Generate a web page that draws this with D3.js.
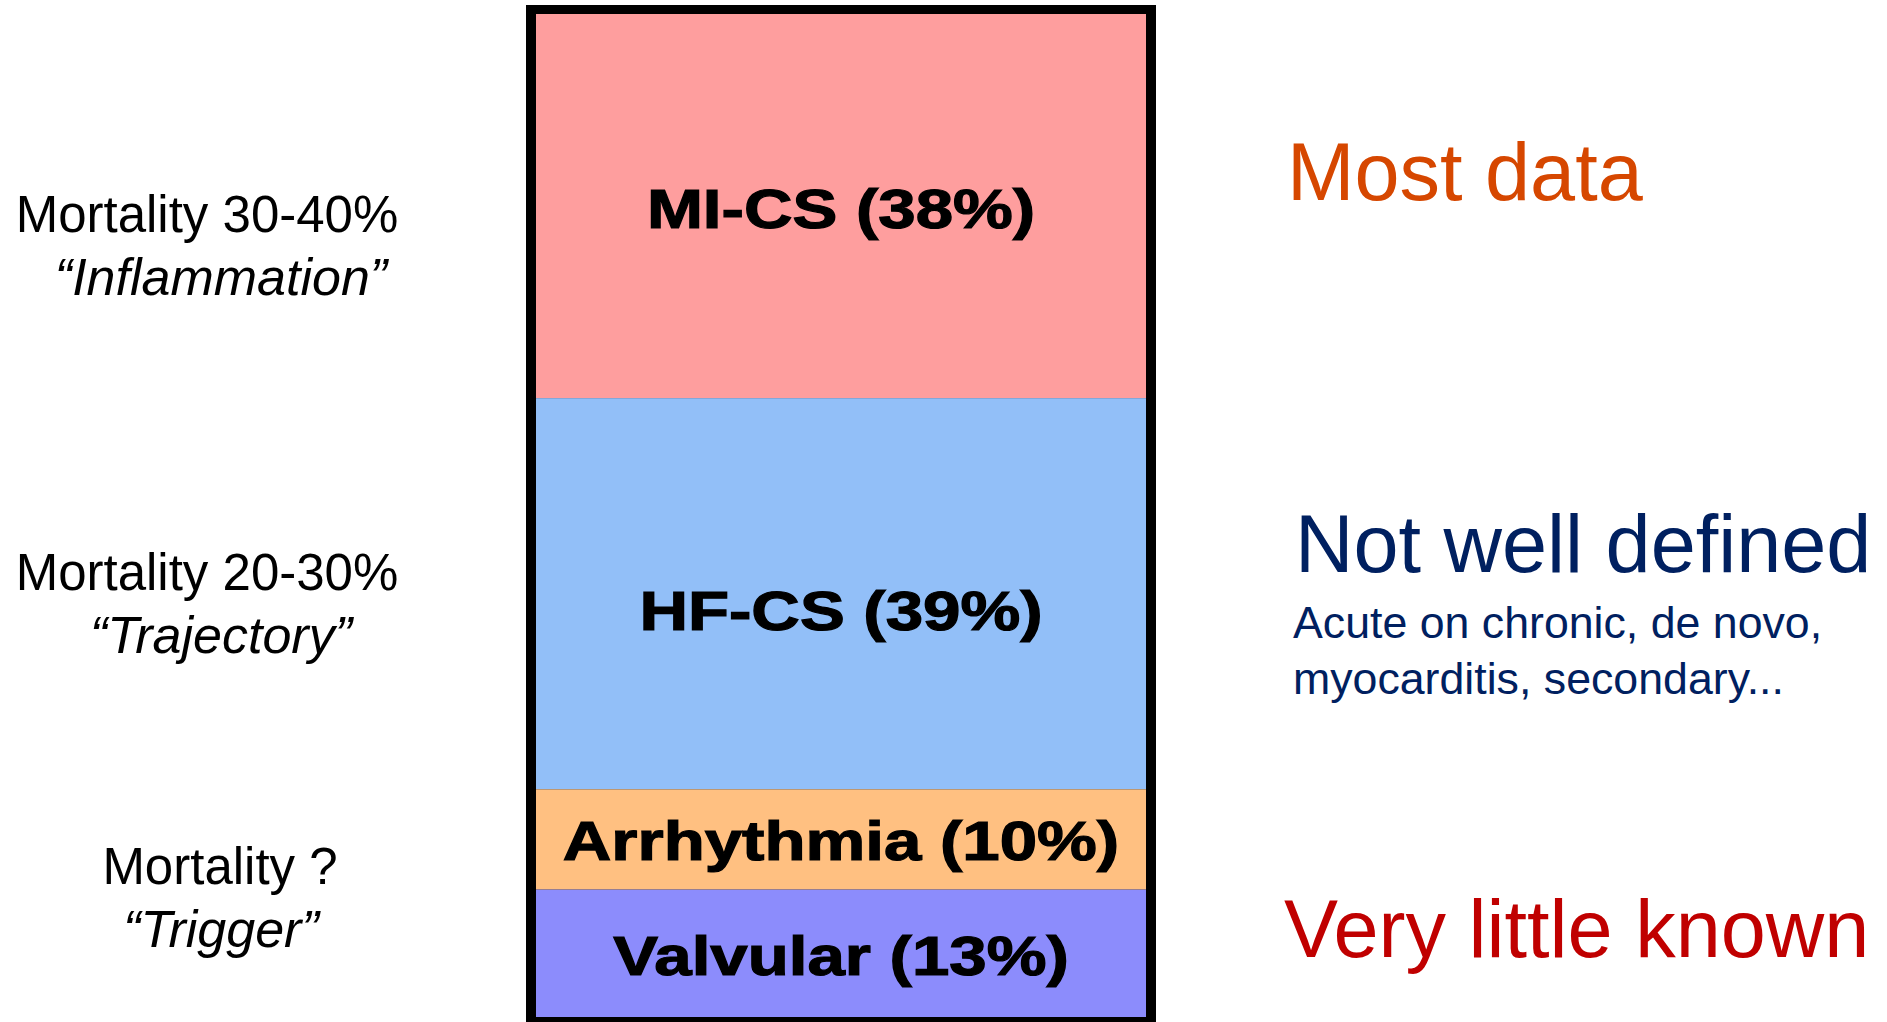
<!DOCTYPE html>
<html>
<head>
<meta charset="utf-8">
<script src="https://cdn.jsdelivr.net/npm/d3@7"></script>
<style>
  html, body { margin: 0; padding: 0; background: #fff; overflow: hidden; }
  svg { display: block; }
</style>
</head>
<body>
<script>
const width = 1887;
const height = 1022;

// cardiogenic shock phenotypes, share of cases
const categories = ["MI-CS", "HF-CS", "Arrhythmia", "Valvular"];
const shares = [38, 39, 10, 13];
const fills = ["#fe9e9e", "#92bff8", "#ffc081", "#8c8cfc"];

// notes on the left
const mortality = ["Mortality 30-40%", "Mortality 20-30%", "Mortality ?"];
const themes = ["\u201CInflammation\u201D", "\u201CTrajectory\u201D", "\u201CTrigger\u201D"];

// notes on the right
const verdicts = ["Most data", "Not well defined", "Very little known"];
const verdictColors = ["#d64700", "#002060", "#c00000"];
const detailLines = ["Acute on chronic, de novo,", "myocarditis, secondary..."];

const svg = d3.select("body").append("svg")
    .attr("width", width)
    .attr("height", height);

const bar = {x0: 536, x1: 1146, y0: 17, y1: 1020};

const y = d3.scaleLinear()
    .domain([0, d3.sum(shares)])
    .range([bar.y0, bar.y1]);

const rows = categories.map((c, i) => ({
    name: c,
    value: shares[i],
    start: d3.sum(shares.slice(0, i)),
    fill: fills[i]
}));

// black frame round the column
svg.append("rect")
    .attr("x", bar.x0 - 10)
    .attr("y", 5)
    .attr("width", bar.x1 - bar.x0 + 20)
    .attr("height", height)
    .style("fill", "#000");

svg.append("g")
    .selectAll("rect")
    .data(rows)
    .enter()
    .append("rect")
    .attr("x", bar.x0)
    .attr("width", bar.x1 - bar.x0)
    .attr("y", (d, i) => i === 0 ? 14 : y(d.start))
    .attr("height", (d, i) => Math.min(y(d.start + d.value), 1017) - (i === 0 ? 14 : y(d.start)))
    .style("fill", d => d.fill);

const cx = (bar.x0 + bar.x1) / 2;
// the HF label sits a little below the middle of its block
const nudge = {"HF-CS": 16};

svg.append("g")
    .selectAll("g")
    .data(rows)
    .enter()
    .append("g")
    .attr("transform", d => `translate(${cx},${(y(d.start) + y(d.start + d.value)) / 2 + (nudge[d.name] || 0)}) scale(1.2,1)`)
    .append("text")
    .attr("text-anchor", "middle")
    .attr("dy", "0.36em")
    .style("font-family", "'Liberation Sans', Arial, sans-serif")
    .style("font-weight", "bold")
    .style("font-size", "56px")
    .style("fill", "#000")
    .style("stroke", "#000")
    .style("stroke-width", 1.2)
    .text(d => `${d.name} (${d.value}%)`);

// left side notes
const leftBase = [232, 590, 884];
const left = svg.append("g")
    .style("font-family", "'Liberation Sans', Arial, sans-serif")
    .style("font-size", "51px")
    .style("fill", "#000");

left.selectAll("text.mort")
    .data(mortality)
    .enter()
    .append("text")
    .attr("class", "mort")
    .attr("x", (d, i) => i === 2 ? 220 : 207)
    .attr("y", (d, i) => leftBase[i])
    .attr("text-anchor", "middle")
    .text(d => d);

left.selectAll("text.theme")
    .data(themes)
    .enter()
    .append("text")
    .attr("class", "theme")
    .attr("x", 221)
    .attr("y", (d, i) => leftBase[i] + 63)
    .attr("text-anchor", "middle")
    .style("font-style", "italic")
    .style("font-size", "52px")
    .text(d => d);

// right side notes
const rightBase = [200, 572, 957];
const right = svg.append("g")
    .style("font-family", "'Liberation Sans', Arial, sans-serif");

right.selectAll("text.verdict")
    .data(verdicts)
    .enter()
    .append("text")
    .attr("class", "verdict")
    .attr("x", (d, i) => i === 0 ? 1287 : (i === 1 ? 1295 : 1284))
    .attr("y", (d, i) => rightBase[i])
    .style("font-size", "81px")
    .style("fill", (d, i) => verdictColors[i])
    .text(d => d);

right.selectAll("text.detail")
    .data(detailLines)
    .enter()
    .append("text")
    .attr("class", "detail")
    .attr("x", 1293)
    .attr("y", (d, i) => 638 + i * 56)
    .style("font-size", "44.7px")
    .style("fill", "#002060")
    .text(d => d);
</script>
</body>
</html>
